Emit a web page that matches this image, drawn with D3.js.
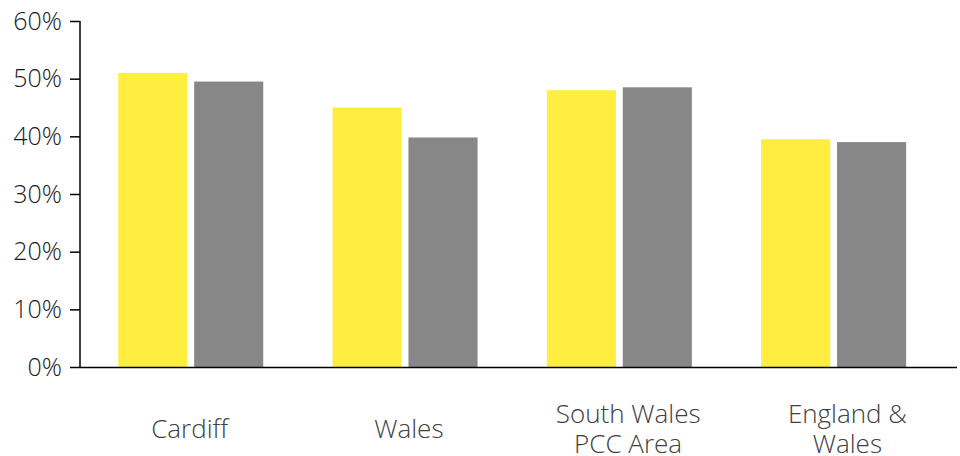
<!DOCTYPE html>
<meta charset="utf-8">
<body style="margin:0;background:#fff">
<script src="https://cdn.jsdelivr.net/npm/d3@7"></script>
<div id="chart"></div>
<script>
    // data
    var categories = [["Cardiff"], ["Wales"], ["South Wales", "PCC Area"], ["England &", "Wales"]];
    var seriesA = [51, 45, 48, 39.5];
    var seriesB = [49.5, 39.8, 48.5, 39];
    var yTicks = [0, 10, 20, 30, 40, 50, 60];
    var colors = ["#ffee3f", "#878787"];

    var width = 960, height = 456;
    var m = {left: 80, right: 957, top: 21, bottom: 367};

    var svg = d3.select("#chart")
      .append("svg")
        .attr("width", width)
        .attr("height", height);

    var y = d3.scaleLinear().domain([0, 60]).range([m.bottom, m.top]);

    // band for category labels (full axis width)
    var xLab = d3.scaleBand().domain(d3.range(4)).range([m.left, m.right]);
    // band for the bar groups (slightly narrower than the axis)
    var xBar = d3.scaleBand().domain(d3.range(4)).range([83.6, 940.8]);
    var xSub = d3.scaleBand().domain([0, 1]).range([-72.5, 72.5]).paddingInner(0.09);

    var rows = seriesA.map(function(v, i) { return [v, seriesB[i]]; });

    var groups = svg.selectAll("g.grp")
      .data(rows)
      .enter().append("g")
        .attr("class", "grp")
        .attr("transform", function(d, i) { return "translate(" + (xBar(i) + xBar.bandwidth() / 2) + ",0)"; });

    groups.selectAll("rect")
      .data(function(d) { return d; })
      .enter().append("rect")
        .attr("x", function(d, j) { return xSub(j); })
        .attr("width", xSub.bandwidth())
        .attr("y", function(d) { return y(d); })
        .attr("height", function(d) { return m.bottom - y(d); })
        .attr("fill", function(d, j) { return colors[j]; });

    // y axis
    var yAxis = svg.append("g")
      .attr("transform", "translate(" + m.left + ",0)")
      .call(d3.axisLeft(y).tickValues(yTicks).tickSize(10).tickPadding(8)
        .tickFormat(function(d) { return d + "%"; }));
    yAxis.select(".domain").attr("stroke", "#000").attr("stroke-width", 1.5).attr("d", "M0," + m.top + "V" + m.bottom);
    yAxis.selectAll(".tick line").attr("stroke", "#000").attr("stroke-width", 1.5);
    yAxis.selectAll("text")
      .attr("fill", "#1a1a1a")
      .style("font-family", "'Open Sans', sans-serif")
      .style("font-weight", 300)
      .style("font-size", "25px");

    // x axis line
    svg.append("line")
      .attr("x1", m.left).attr("x2", m.right)
      .attr("y1", m.bottom + 0.5).attr("y2", m.bottom + 0.5)
      .attr("stroke", "#000").attr("stroke-width", 1.5);

    // category labels
    var labels = svg.selectAll("text.cat")
      .data(categories)
      .enter().append("text")
        .attr("class", "cat")
        .attr("text-anchor", "middle")
        .attr("fill", "#404040")
        .style("font-family", "'Open Sans', sans-serif")
        .style("font-weight", 300)
        .style("font-size", "26px")
        .attr("transform", function(d, i) { return "translate(" + (xLab(i) + xLab.bandwidth() / 2) + ",0)"; });

    labels.selectAll("tspan")
      .data(function(d) { return d; })
      .enter().append("tspan")
        .attr("x", 0)
        .attr("y", function(t, k, nodes) {
          var n = nodes.length;
          return 438 + (k - (n - 1) / 2) * 30;
        })
        .text(function(t) { return t; });
</script>
</body>
